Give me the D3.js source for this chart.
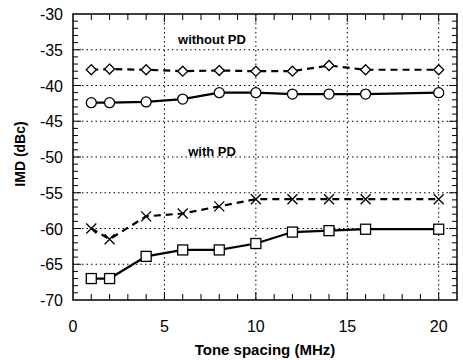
<!DOCTYPE html>
<html lang="en">
<head>
    <meta charset="UTF-8">
    <title>IMD vs tone spacing</title>
    <script src="https://d3js.org/d3.v7.min.js"></script>
    <style>
        body { margin: 0; background: #fff; }
        text { font-family: "Liberation Sans", Arial, sans-serif; }
    </style>
</head>
<body>
    <div id="chart"></div>
    <script>
        // tone spacing (MHz)
        var spacing = [1, 2, 4, 6, 8, 10, 12, 14, 16, 20];
        var withoutPdDiamond = [-37.8, -37.7, -37.8, -38, -37.9, -38, -38, -37.2, -37.8, -37.8];
        var withoutPdCircle = [-42.4, -42.4, -42.3, -41.9, -41, -41, -41.2, -41.2, -41.2, -41];
        var withPdCross = [-60, -61.5, -58.3, -57.9, -56.9, -55.9, -55.9, -55.9, -55.9, -55.9];
        var withPdSquare = [-67, -67, -63.9, -63, -63, -62.1, -60.5, -60.3, -60.1, -60.1];
        var xTicks = [0, 5, 10, 15, 20];
        var yTicks = [-30, -35, -40, -45, -50, -55, -60, -65, -70];

        var width = 463, height = 360;
        var margin = {top: 14, right: 6, bottom: 60, left: 73};

        var svg = d3.select("#chart").append("svg")
            .attr("width", width)
            .attr("height", height);

        var x = d3.scaleLinear().domain([0, 21]).range([margin.left, width - margin.right]);
        var y = d3.scaleLinear().domain([-70, -30]).range([height - margin.bottom, margin.top]);

        // dotted grid
        var grid = svg.append("g")
            .attr("stroke", "#000")
            .attr("stroke-width", 1)
            .attr("stroke-dasharray", "1.5,3");
        grid.selectAll(".gx").data(xTicks.filter(function(d) { return d > 0 && d < 21; }))
            .enter().append("line")
            .attr("x1", function(d) { return x(d); })
            .attr("x2", function(d) { return x(d); })
            .attr("y1", y(-30)).attr("y2", y(-70));
        grid.selectAll(".gy").data(yTicks.filter(function(d) { return d > -70 && d < -30; }))
            .enter().append("line")
            .attr("y1", function(d) { return y(d); })
            .attr("y2", function(d) { return y(d); })
            .attr("x1", x(0)).attr("x2", x(21));

        // frame
        svg.append("rect")
            .attr("x", x(0)).attr("y", y(-30))
            .attr("width", x(21) - x(0)).attr("height", y(-70) - y(-30))
            .attr("fill", "none").attr("stroke", "#000").attr("stroke-width", 1.5);

        // inward ticks on all four sides
        var minorX = d3.range(1, 21);
        var minorY = d3.range(-69, -30);
        var tickG = svg.append("g").attr("stroke", "#000").attr("stroke-width", 1);
        minorX.forEach(function(v) {
            var len = v % 5 === 0 ? 8 : 6;
            tickG.append("line").attr("x1", x(v)).attr("x2", x(v)).attr("y1", y(-70)).attr("y2", y(-70) - len);
            tickG.append("line").attr("x1", x(v)).attr("x2", x(v)).attr("y1", y(-30)).attr("y2", y(-30) + len);
        });
        minorY.forEach(function(v) {
            var len = v % 5 === 0 ? 8 : 5;
            tickG.append("line").attr("y1", y(v)).attr("y2", y(v)).attr("x1", x(0)).attr("x2", x(0) + len);
            tickG.append("line").attr("y1", y(v)).attr("y2", y(v)).attr("x1", x(21)).attr("x2", x(21) - len);
        });

        // tick labels
        svg.selectAll(".xl").data(xTicks).enter().append("text")
            .attr("x", function(d) { return x(d); })
            .attr("y", y(-70) + 32)
            .attr("text-anchor", "middle")
            .attr("font-size", 16)
            .text(function(d) { return d; });
        svg.selectAll(".yl").data(yTicks).enter().append("text")
            .attr("x", x(0) - 10)
            .attr("y", function(d) { return y(d) + 6; })
            .attr("text-anchor", "end")
            .attr("font-size", 16)
            .text(function(d) { return d; });

        // axis titles
        svg.append("text")
            .attr("x", 265).attr("y", 355)
            .attr("text-anchor", "middle")
            .attr("font-size", 15).attr("font-weight", "bold")
            .text("Tone spacing (MHz)");
        svg.append("text")
            .attr("transform", "translate(25,154) rotate(-90)")
            .attr("text-anchor", "middle")
            .attr("font-size", 14).attr("font-weight", "bold")
            .text("IMD (dBc)");

        // annotations
        svg.append("text").attr("x", 212).attr("y", 44)
            .attr("text-anchor", "middle").attr("font-size", 13).attr("font-weight", "bold")
            .text("without PD");
        svg.append("text").attr("x", 212).attr("y", 156)
            .attr("text-anchor", "middle").attr("font-size", 13).attr("font-weight", "bold")
            .text("with PD");

        var line = d3.line()
            .x(function(d) { return x(d[0]); })
            .y(function(d) { return y(d[1]); });

        function series(vals, dashed, marker) {
            var pts = spacing.map(function(s, i) { return [s, vals[i]]; });
            svg.append("path")
                .datum(pts)
                .attr("d", line)
                .attr("fill", "none")
                .attr("stroke", "#000")
                .attr("stroke-width", 2.2)
                .attr("stroke-dasharray", dashed ? "7,5" : null);
            var g = svg.append("g")
                .attr("fill", "#fff").attr("stroke", "#000").attr("stroke-width", 1.3);
            pts.forEach(function(p) {
                var cx = x(p[0]), cy = y(p[1]);
                if (marker === "circle") {
                    g.append("circle").attr("cx", cx).attr("cy", cy).attr("r", 5);
                } else if (marker === "square") {
                    g.append("rect").attr("x", cx - 5).attr("y", cy - 5).attr("width", 10).attr("height", 10);
                } else if (marker === "diamond") {
                    g.append("path").attr("d", "M" + cx + "," + (cy - 5) + "L" + (cx + 5) + "," + cy +
                        "L" + cx + "," + (cy + 5) + "L" + (cx - 5) + "," + cy + "Z");
                } else {
                    g.append("path").attr("fill", "none")
                        .attr("d", "M" + (cx - 5) + "," + (cy - 5) + "L" + (cx + 5) + "," + (cy + 5) +
                            "M" + (cx + 5) + "," + (cy - 5) + "L" + (cx - 5) + "," + (cy + 5));
                }
            });
        }

        series(withoutPdDiamond, true, "diamond");
        series(withoutPdCircle, false, "circle");
        series(withPdCross, true, "cross");
        series(withPdSquare, false, "square");
    </script>
</body>
</html>
